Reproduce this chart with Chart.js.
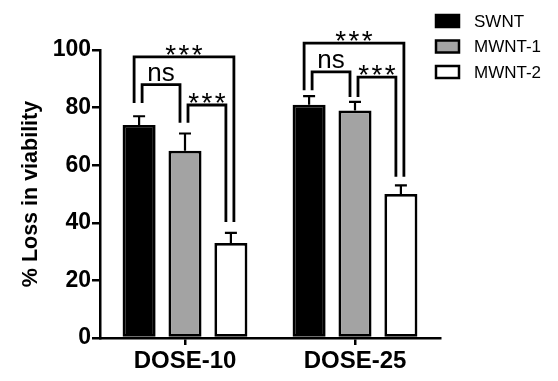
<!DOCTYPE html>
<html>
<head>
<meta charset="utf-8">
<script src="https://cdn.jsdelivr.net/npm/chart.js@4.4.0/dist/chart.umd.min.js"></script>
<style>
  body { margin: 0; background: #fff; }
  canvas { display: block; }
</style>
</head>
<body>
<canvas id="grafico" width="558" height="381"></canvas>
<script>
// datos
const categorias = ['DOSE-10', 'DOSE-25'];
const series = ['SWNT', 'MWNT-1', 'MWNT-2'];
const swnt = [74, 81];
const mwnt1 = [65, 79];
const mwnt2 = [33, 50];
const errSwnt = [3, 3];
const errMwnt1 = [6, 3];
const errMwnt2 = [3.5, 3];
const yTicks = [0, 20, 40, 60, 80, 100];

// brackets de significancia
const brGrupo = [0, 0, 0, 1, 1, 1];
const brDesde = [0, 0, 1, 0, 0, 1];
const brHasta = [2, 1, 2, 2, 1, 2];
const brTope = [97.6, 88, 80.9, 102.4, 92.4, 90.6];
const brFinIzq = [81.6, 81.6, 74.7, 86, 86, 83.7];
const brFinDer = [40.3, 74.7, 40.3, 56, 83.7, 56];
const brTexto = ['***', 'ns', '***', '***', 'ns', '***'];

const FONT = 'Arial, "Liberation Sans", sans-serif';
const colores = ['#000000', '#a3a3a3', '#ffffff'];
const errores = [errSwnt, errMwnt1, errMwnt2];

const extras = {
  id: 'extras',
  afterDatasetsDraw(chart) {
    const ctx = chart.ctx;
    const y = chart.scales.y;
    ctx.save();
    ctx.strokeStyle = '#000';
    ctx.lineCap = 'butt';

    // barras de error (solo hacia arriba)
    ctx.lineWidth = 2.2;
    chart.data.datasets.forEach((ds, i) => {
      chart.getDatasetMeta(i).data.forEach((bar, j) => {
        const yTop = y.getPixelForValue(ds.data[j] + errores[i][j]);
        ctx.beginPath();
        ctx.moveTo(bar.x, bar.y);
        ctx.lineTo(bar.x, yTop);
        ctx.moveTo(bar.x - 6, yTop);
        ctx.lineTo(bar.x + 6, yTop);
        ctx.stroke();
      });
    });

    // brackets
    ctx.lineWidth = 2.8;
    ctx.lineJoin = 'miter';
    brGrupo.forEach((g, k) => {
      const a = chart.getDatasetMeta(brDesde[k]).data[g];
      const b = chart.getDatasetMeta(brHasta[k]).data[g];
      const externo = brHasta[k] - brDesde[k] > 1;
      const x1 = a.x + (externo ? -5 : 3);
      const x2 = b.x + (externo ? 3 : -5);
      const yt = y.getPixelForValue(brTope[k]);
      ctx.beginPath();
      ctx.moveTo(x1, y.getPixelForValue(brFinIzq[k]));
      ctx.lineTo(x1, yt);
      ctx.lineTo(x2, yt);
      ctx.lineTo(x2, y.getPixelForValue(brFinDer[k]));
      ctx.stroke();

      ctx.fillStyle = '#000';
      ctx.textAlign = 'center';
      ctx.textBaseline = 'alphabetic';
      const xm = (x1 + x2) / 2;
      if (brTexto[k] === 'ns') {
        ctx.font = '26px ' + FONT;
        ctx.fillText('ns', xm, yt - 4);
      } else {
        ctx.font = '28px ' + FONT;
        ctx.fillText('*\u200a*\u200a*', xm, yt + 7);
      }
    });

    // leyenda
    ctx.lineWidth = 2.5;
    ctx.font = '17px ' + FONT;
    ctx.textAlign = 'left';
    ctx.textBaseline = 'middle';
    series.forEach((s, i) => {
      const cy = 21 + i * 25.5;
      ctx.fillStyle = colores[i];
      ctx.fillRect(436, cy - 6, 23, 12);
      ctx.strokeRect(436, cy - 6, 23, 12);
      ctx.fillStyle = '#000';
      ctx.fillText(s, 474, cy + 1);
    });
    ctx.restore();
  }
};

const datasets = [swnt, mwnt1, mwnt2].map((d, i) => ({
  label: series[i],
  data: d,
  backgroundColor: colores[i],
  borderColor: '#000',
  borderWidth: 2.8,
  borderSkipped: false,
  categoryPercentage: 0.81,
  barPercentage: 0.72
}));

new Chart(document.getElementById('grafico'), {
  type: 'bar',
  data: { labels: categorias, datasets },
  plugins: [extras],
  options: {
    responsive: false,
    animation: false,
    layout: { padding: { top: 50, right: 118, left: 0, bottom: 0 } },
    plugins: { legend: { display: false }, tooltip: { enabled: false } },
    scales: {
      x: {
        afterFit: s => { s.height = 43; },
        border: { color: '#000', width: 2.5 },
        grid: { drawOnChartArea: false, offset: false, tickLength: 7, color: '#000', lineWidth: 2.5 },
        ticks: { color: '#000', font: { family: FONT, size: 24, weight: 'bold' }, padding: 2 }
      },
      y: {
        min: 0,
        max: 100,
        afterFit: s => { s.width = 100; },
        afterBuildTicks: s => { s.ticks = yTicks.map(v => ({ value: v })); },
        border: { color: '#000', width: 2.5 },
        grid: { drawOnChartArea: false, tickLength: 8, color: '#000', lineWidth: 2.5 },
        ticks: { color: '#000', font: { family: FONT, size: 23, weight: 'bold' }, padding: 1 },
        title: {
          display: true,
          text: '% Loss in viability',
          color: '#000',
          font: { family: FONT, size: 21.5, weight: 'bold' },
          padding: { top: 18, bottom: 0 }
        }
      }
    }
  }
});
</script>
</body>
</html>
